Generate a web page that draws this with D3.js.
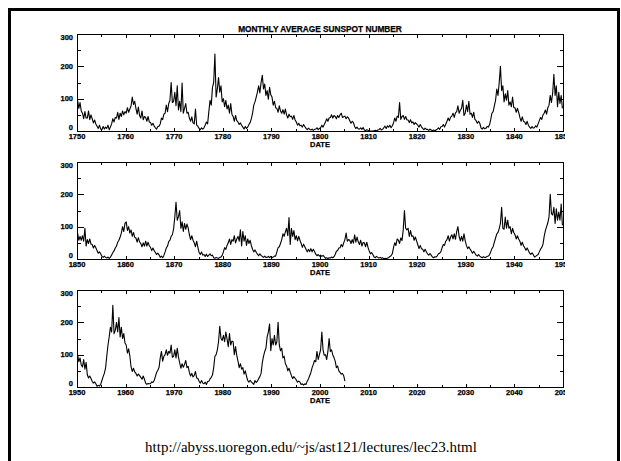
<!DOCTYPE html>
<html>
<head>
<meta charset="utf-8">
<script src="https://cdn.jsdelivr.net/npm/d3@7"></script>
<style>
  html, body { margin: 0; padding: 0; background: #fff; }
  svg { display: block; }
</style>
</head>
<body>
<script>
// quarterly sunspot numbers, one row = 5 years
const SSN_1750 = [
  95, 70, 88, 62, 55, 38, 60, 40, 40, 62, 35, 50, 38, 25, 34, 22, 15, 8, 18, 6,
  4, 14, 6, 12, 8, 18, 4, 12, 22, 38, 28, 42, 40, 58, 36, 55, 45, 62, 50, 60,
  55, 72, 58, 68, 78, 105, 82, 92, 70, 52, 74, 48, 40, 62, 35, 45, 42, 30, 45, 28,
  26, 18, 24, 15, 10, 6, 14, 15, 22, 40, 35, 52, 55, 80, 60, 85, 95, 150, 88, 92,
  120, 78, 140, 65, 92, 60, 148, 55, 70, 85, 55, 58, 40, 30, 44, 25, 22, 68, 18, 14,
  8, 4, 10, 6, 10, 18, 28, 22, 60, 95, 80, 135, 150, 238, 105, 130, 165, 120, 140, 90,
  100, 75, 95, 68, 80, 55, 85, 52, 45, 30, 48, 32, 28, 20, 25, 18, 12, 6, 14, 8,
  12, 20, 26, 38, 55, 80, 90, 105, 120, 140, 118, 150, 172, 130, 145, 110, 125, 98, 135, 112,
  105, 80, 92, 72, 70, 58, 78, 62, 55, 66, 52, 68, 50, 40, 52, 44, 46, 36, 48, 34,
  28, 18, 24, 16, 18, 12, 20, 14, 8, 4, 9, 5, 3, 6, 2, 5, 6, 10, 4, 8,
  10, 18, 12, 20, 28, 38, 30, 40, 42, 50, 40, 48, 45, 38, 48, 42, 50, 55, 42, 44,
  46, 38, 44, 40, 32, 24, 30, 26, 14, 8, 12, 6, 6, 10, 5, 11, 3, 1, 4, 2,
  0, 0, 0, 0, 1, 2, 0, 3, 4, 8, 3, 5, 10, 15, 8, 16, 12, 18, 10, 16,
  25, 40, 30, 46, 42, 88, 36, 45, 48, 36, 45, 35, 34, 26, 35, 25, 28, 20, 26, 22,
  18, 12, 20, 13, 8, 4, 9, 5, 5, 2, 6, 3, 1, 3, 0, 3, 6, 10, 5, 13,
  14, 20, 12, 21, 30, 40, 32, 43, 46, 55, 42, 56, 60, 78, 55, 64, 70, 95, 48, 55,
  80, 60, 92, 52, 55, 42, 58, 36, 32, 24, 30, 24, 10, 6, 11, 7, 8, 14, 12, 19,
  35, 55, 60, 78, 95, 130, 110, 150, 200, 125, 140, 90, 115, 95, 125, 80, 90, 75, 105, 72,
  72, 58, 70, 58, 42, 30, 44, 30, 28, 20, 30, 18, 12, 8, 14, 9, 10, 16, 12, 22,
  32, 42, 36, 50, 55, 65, 52, 72, 80, 110, 88, 118, 175, 110, 140, 75, 120, 85, 110, 70
];
const SSN_1850 = [
  80, 58, 70, 58, 72, 55, 95, 40, 60, 48, 62, 46, 45, 34, 42, 35, 26, 18, 22, 16,
  8, 5, 9, 5, 3, 6, 2, 6, 12, 20, 25, 34, 40, 52, 58, 68, 80, 100, 85, 110,
  115, 88, 100, 80, 90, 70, 82, 67, 65, 52, 66, 53, 48, 38, 50, 40, 55, 40, 52, 41,
  36, 26, 34, 26, 20, 14, 18, 13, 5, 9, 4, 11, 22, 34, 40, 54, 58, 70, 75, 93,
  130, 175, 120, 131, 150, 95, 115, 85, 110, 92, 108, 96, 75, 60, 72, 58, 50, 38, 55, 36,
  20, 14, 22, 12, 14, 8, 15, 8, 12, 16, 10, 12, 4, 2, 5, 3, 2, 5, 6, 11,
  22, 35, 30, 42, 50, 62, 45, 60, 55, 72, 50, 62, 70, 55, 90, 40, 85, 55, 72, 42,
  62, 48, 58, 41, 30, 22, 28, 21, 15, 10, 16, 11, 8, 5, 9, 5, 5, 8, 4, 8,
  4, 6, 9, 9, 22, 35, 38, 48, 60, 78, 70, 84, 95, 72, 128, 45, 95, 70, 88, 60,
  72, 56, 70, 58, 48, 36, 46, 38, 30, 22, 30, 23, 32, 22, 30, 23, 15, 10, 14, 9,
  12, 8, 11, 7, 2, 4, 1, 4, 3, 6, 4, 7, 14, 24, 26, 34, 35, 45, 38, 50,
  60, 80, 55, 60, 58, 48, 60, 49, 75, 52, 68, 53, 45, 58, 40, 51, 50, 38, 52, 36,
  25, 16, 20, 14, 6, 4, 8, 5, 3, 5, 2, 4, 1, 2, 0, 3, 4, 8, 10, 16,
  35, 50, 42, 62, 58, 48, 65, 57, 90, 150, 95, 90, 95, 70, 88, 70, 72, 58, 68, 56,
  44, 32, 42, 32, 30, 22, 30, 22, 16, 12, 17, 12, 6, 4, 7, 6, 10, 16, 18, 23,
  35, 45, 42, 55, 60, 72, 55, 68, 75, 62, 78, 61, 85, 100, 70, 56, 70, 55, 78, 57,
  42, 32, 38, 31, 25, 18, 24, 18, 12, 9, 14, 9, 6, 4, 7, 5, 5, 8, 9, 13,
  22, 32, 38, 52, 65, 78, 82, 94, 110, 160, 95, 92, 130, 95, 120, 95, 100, 78, 95, 82,
  75, 62, 72, 62, 55, 42, 52, 41, 35, 27, 34, 26, 18, 14, 19, 14, 6, 8, 11, 14,
  22, 30, 36, 45, 70, 88, 100, 112, 130, 200, 140, 136, 160, 110, 155, 120, 145, 120, 170, 104
];
const SSN_1950 = [
  100, 78, 90, 68, 62, 85, 55, 76, 38, 28, 34, 26, 18, 12, 16, 10, 2, 5, 3, 8,
  20, 32, 42, 58, 95, 130, 155, 185, 170, 253, 165, 175, 200, 170, 215, 155, 185, 150, 165, 136,
  130, 105, 118, 96, 62, 48, 58, 47, 42, 34, 40, 35, 30, 24, 34, 24, 12, 8, 11, 10,
  10, 16, 14, 20, 32, 45, 52, 60, 90, 110, 80, 95, 100, 115, 98, 110, 105, 130, 92, 95,
  115, 90, 120, 93, 75, 58, 72, 61, 70, 82, 60, 64, 45, 34, 42, 31, 36, 48, 28, 26,
  18, 12, 20, 12, 10, 15, 8, 17, 18, 25, 30, 37, 60, 95, 100, 115, 140, 188, 150, 144,
  160, 140, 170, 149, 125, 165, 130, 142, 140, 100, 125, 98, 80, 60, 72, 55, 60, 40, 50, 34,
  20, 15, 21, 16, 12, 8, 20, 14, 18, 26, 32, 42, 75, 95, 110, 120, 155, 170, 195, 112,
  150, 130, 160, 130, 140, 200, 130, 112, 120, 90, 95, 72, 65, 50, 58, 46, 35, 26, 32, 27,
  22, 15, 18, 15, 8, 10, 6, 10, 8, 18, 25, 35, 45, 60, 70, 82, 78, 110, 85, 100,
  115, 170, 115, 98, 100, 85, 110, 150, 110, 115, 100, 91, 80, 60, 65, 50, 45, 40, 42, 35,
  18
];
const SERIES = [SSN_1750, SSN_1850, SSN_1950];
const START_YEARS = [1750, 1850, 1950];
const Y_MAJOR = [0, 100, 200, 300];
const Y_MINOR = [50, 150, 250];
const TITLE = 'MONTHLY AVERAGE SUNSPOT NUMBER';
const X_TITLE = 'DATE';
const SOURCE = 'http://abyss.uoregon.edu/~js/ast121/lectures/lec23.html';

const W = 621, H = 461;
const left = 77, right = 563;
const panelTops = [34, 162, 290];
const panelH = 97;
const LABEL_FONT = "'Liberation Sans', Arial, Helvetica, sans-serif";

const svg = d3.select('body').append('svg')
  .attr('width', W)
  .attr('height', H);

svg.append('rect')
  .attr('width', W).attr('height', H)
  .attr('fill', '#fff');

// slide frame, bottom edge runs off the picture
svg.append('rect')
  .attr('x', 9.5).attr('y', 9.5)
  .attr('width', 609).attr('height', 480)
  .attr('fill', 'none')
  .attr('stroke', '#000')
  .attr('stroke-width', 3);

svg.append('defs').append('clipPath')
  .attr('id', 'label-clip')
  .append('rect')
  .attr('x', 0).attr('y', 0)
  .attr('width', right + 2).attr('height', H);

const boldLabel = (sel, size) => sel
  .attr('font-family', LABEL_FONT)
  .attr('font-weight', 'bold')
  .attr('font-size', size)
  .attr('stroke', '#000')
  .attr('stroke-width', 0.25);

svg.append('text')
  .text(TITLE)
  .attr('x', 320).attr('y', 32)
  .attr('text-anchor', 'middle')
  .call(boldLabel, '8.3px');

SERIES.forEach((data, p) => {
  const start = START_YEARS[p];
  const top = panelTops[p];
  const bottom = top + panelH;
  const x = d3.scaleLinear().domain([start, start + 100]).range([left, right]);
  const y = d3.scaleLinear().domain([0, 300]).range([bottom, top]);
  const g = svg.append('g');

  // data line
  const line = d3.line()
    .x((d, i) => x(start + i / 4 + 0.125))
    .y((d) => y(d));
  g.append('path')
    .datum(data)
    .attr('d', line)
    .attr('fill', 'none')
    .attr('stroke', '#000')
    .attr('stroke-width', 1.1)
    .attr('stroke-linejoin', 'round');

  // box
  g.append('rect')
    .attr('x', left + 0.5).attr('y', top + 0.5)
    .attr('width', right - left).attr('height', panelH)
    .attr('fill', 'none')
    .attr('stroke', '#000')
    .attr('stroke-width', 1);

  // x ticks every 5 years, top and bottom
  const xTicks = d3.range(start + 5, start + 100, 5);
  g.selectAll('line.xt-top')
    .data(xTicks)
    .enter()
    .append('line')
    .attr('x1', (d) => Math.round(x(d)) + 0.5)
    .attr('x2', (d) => Math.round(x(d)) + 0.5)
    .attr('y1', top)
    .attr('y2', (d) => top + (d % 10 === 0 ? 4 : 3))
    .attr('stroke', '#000');
  g.selectAll('line.xt-bot')
    .data(xTicks)
    .enter()
    .append('line')
    .attr('x1', (d) => Math.round(x(d)) + 0.5)
    .attr('x2', (d) => Math.round(x(d)) + 0.5)
    .attr('y1', bottom + 1)
    .attr('y2', (d) => bottom + 1 - (d % 10 === 0 ? 4 : 3))
    .attr('stroke', '#000');

  // y ticks, left and right
  const yTicks = Y_MAJOR.concat(Y_MINOR).filter((d) => d > 0 && d < 300);
  const tlen = (d) => (Y_MAJOR.includes(d) ? 7 : 4);
  g.selectAll('line.yt-left')
    .data(yTicks)
    .enter()
    .append('line')
    .attr('x1', left)
    .attr('x2', (d) => left + tlen(d))
    .attr('y1', (d) => Math.round(y(d)) + 0.5)
    .attr('y2', (d) => Math.round(y(d)) + 0.5)
    .attr('stroke', '#000');
  g.selectAll('line.yt-right')
    .data(yTicks)
    .enter()
    .append('line')
    .attr('x1', right + 1)
    .attr('x2', (d) => right + 1 - tlen(d))
    .attr('y1', (d) => Math.round(y(d)) + 0.5)
    .attr('y2', (d) => Math.round(y(d)) + 0.5)
    .attr('stroke', '#000');

  // y labels
  g.selectAll('text.yl')
    .data(Y_MAJOR)
    .enter()
    .append('text')
    .text((d) => d)
    .attr('x', left - 4)
    .attr('y', (d) => {
      if (d === 0) return bottom - 0.8;
      if (d === 300) return top + 5.8;
      return y(d) + 2.8;
    })
    .attr('text-anchor', 'end')
    .call(boldLabel, '7.5px');

  // x labels, the last one is cut at the plot edge
  g.selectAll('text.xl')
    .data(d3.range(start, start + 101, 10))
    .enter()
    .append('text')
    .text((d) => d)
    .attr('x', (d) => x(d))
    .attr('y', bottom + 7.8)
    .attr('text-anchor', 'middle')
    .attr('clip-path', 'url(#label-clip)')
    .call(boldLabel, '7.5px');

  g.append('text')
    .text(X_TITLE)
    .attr('x', x(start + 50))
    .attr('y', bottom + 15.5)
    .attr('text-anchor', 'middle')
    .call(boldLabel, '7.5px');
});

svg.append('text')
  .text(SOURCE)
  .attr('x', 311).attr('y', 452)
  .attr('text-anchor', 'middle')
  .attr('font-family', "'Liberation Serif', 'Times New Roman', serif")
  .attr('font-size', '15px');
</script>
</body>
</html>
